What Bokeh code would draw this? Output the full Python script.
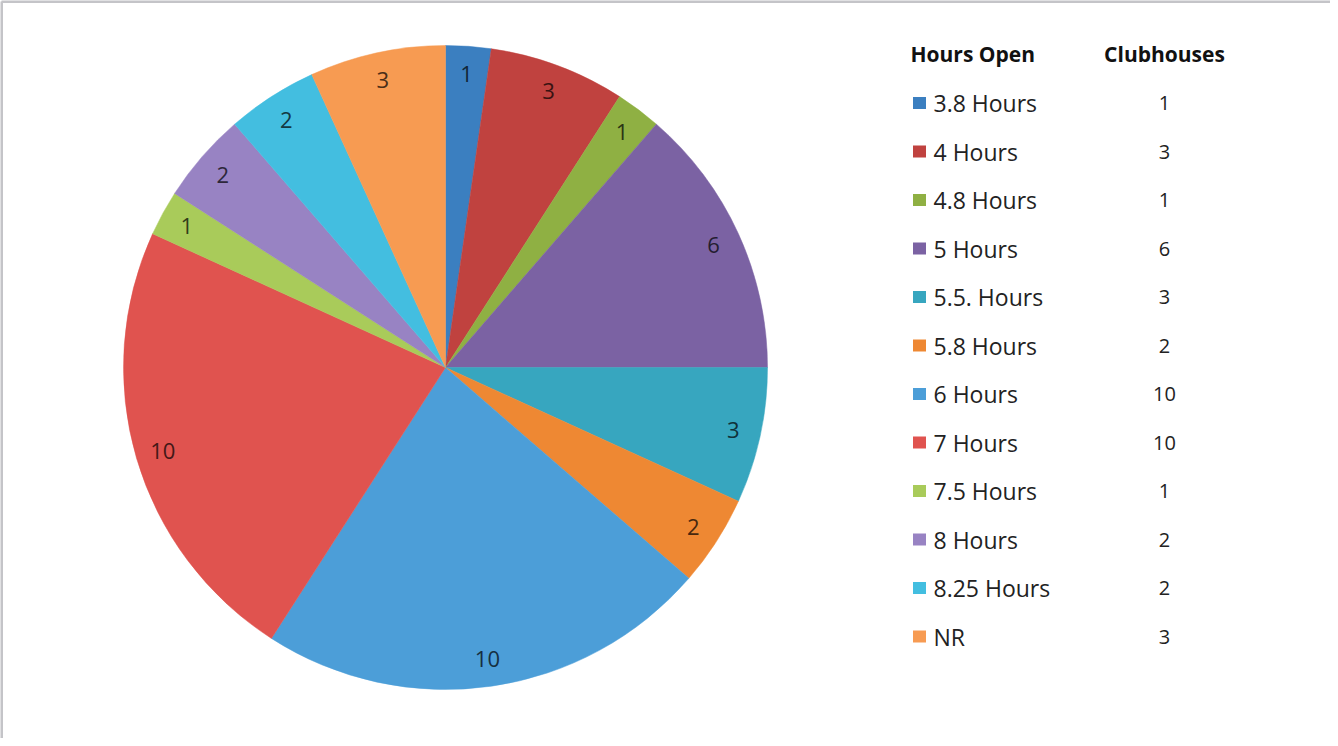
import math
from bokeh.plotting import figure
from bokeh.models import Range1d, ColumnDataSource
from bokeh.core.properties import value
from bokeh.embed import file_html
from bokeh.resources import INLINE

# ---- data ----
categories = ["3.8  Hours", "4 Hours", "4.8 Hours", "5 Hours", "5.5. Hours", "5.8 Hours",
              "6 Hours", "7 Hours", "7.5 Hours", "8 Hours", "8.25 Hours", "NR"]
clubhouses = [1, 3, 1, 6, 3, 2, 10, 10, 1, 2, 2, 3]
colors = ["#3b7fc0", "#c0423f", "#8fb043", "#7b62a3", "#37a6bf", "#ee8833",
          "#4c9ed8", "#e0534f", "#a9cb5a", "#9883c3", "#43bee0", "#f79b52"]
header_left = "Hours Open"
header_right = "Clubhouses"

W, H = 1330, 738
FONT = "Open Sans"

def px(x):
    return x - 8

def py(y):
    return 746 - y

def darken(c, f=0.3):
    r, g, b = int(c[1:3], 16), int(c[3:5], 16), int(c[5:7], 16)
    return "#%02x%02x%02x" % (int(r * f), int(g * f), int(b * f))

p = figure(width=W, height=H, output_backend="svg", toolbar_location=None,
           x_range=Range1d(0, W), y_range=Range1d(0, H), min_border=0,
           background_fill_color="white", border_fill_color="white")
p.axis.visible = False
p.grid.visible = False
p.outline_line_color = None

# border lines (top and left)
p.segment(x0=[1, 1], y0=[H - 1, H - 1], x1=[W, 1], y1=[H - 1, 0],
          line_color="#c4c4c8", line_width=3)

# pie
cx, cy, R = px(453), py(375), 322
total = sum(clubhouses)
starts, ends, lx, ly = [], [], [], []
cum = 0
for v in clubhouses:
    a0 = math.pi / 2 - cum / total * 2 * math.pi
    a1 = math.pi / 2 - (cum + v) / total * 2 * math.pi
    mid = (a0 + a1) / 2
    starts.append(a0)
    ends.append(a1)
    lx.append(cx + 0.915 * R * math.cos(mid))
    ly.append(cy + 0.915 * R * math.sin(mid))
    cum += v

src = ColumnDataSource(dict(start=starts, end=ends, color=colors,
                            lx=lx, ly=ly, lab=[str(v) for v in clubhouses],
                            lcolor=[darken(c) for c in colors]))
p.wedge(x=cx, y=cy, radius=R, start_angle="start", end_angle="end",
        direction="clock", fill_color="color", line_color="color",
        line_width=0.5, source=src)
p.text(x="lx", y="ly", text="lab", text_color="lcolor", source=src,
       text_font=value(FONT), text_font_size="22px",
       text_align="center", text_baseline="middle")

# legend table
hx_left, hx_right = px(918), px(1172)
head_y = py(61)
p.text(x=[hx_left], y=[head_y], text=[header_left], text_font=value(FONT),
       text_font_style="bold", text_font_size="21px", text_color="#111111",
       text_align="left", text_baseline="middle")
p.text(x=[hx_right], y=[head_y], text=[header_right], text_font=value(FONT),
       text_font_style="bold", text_font_size="21px", text_color="#111111",
       text_align="center", text_baseline="middle")

rows_y = [py(110.5 + i * 48.5) for i in range(len(categories))]
p.rect(x=[px(927)] * len(categories), y=rows_y, width=13, height=12,
       fill_color=colors, line_color=None)
p.text(x=[px(941)] * len(categories), y=rows_y, text=categories,
       text_font=value(FONT), text_font_size="23px", text_color="#222222",
       text_align="left", text_baseline="middle")
p.text(x=[hx_right] * len(categories), y=rows_y, text=[str(v) for v in clubhouses],
       text_font=value(FONT), text_font_size="20px", text_color="#222222",
       text_align="center", text_baseline="middle")

open("out.html", "w").write(file_html(p, INLINE))
